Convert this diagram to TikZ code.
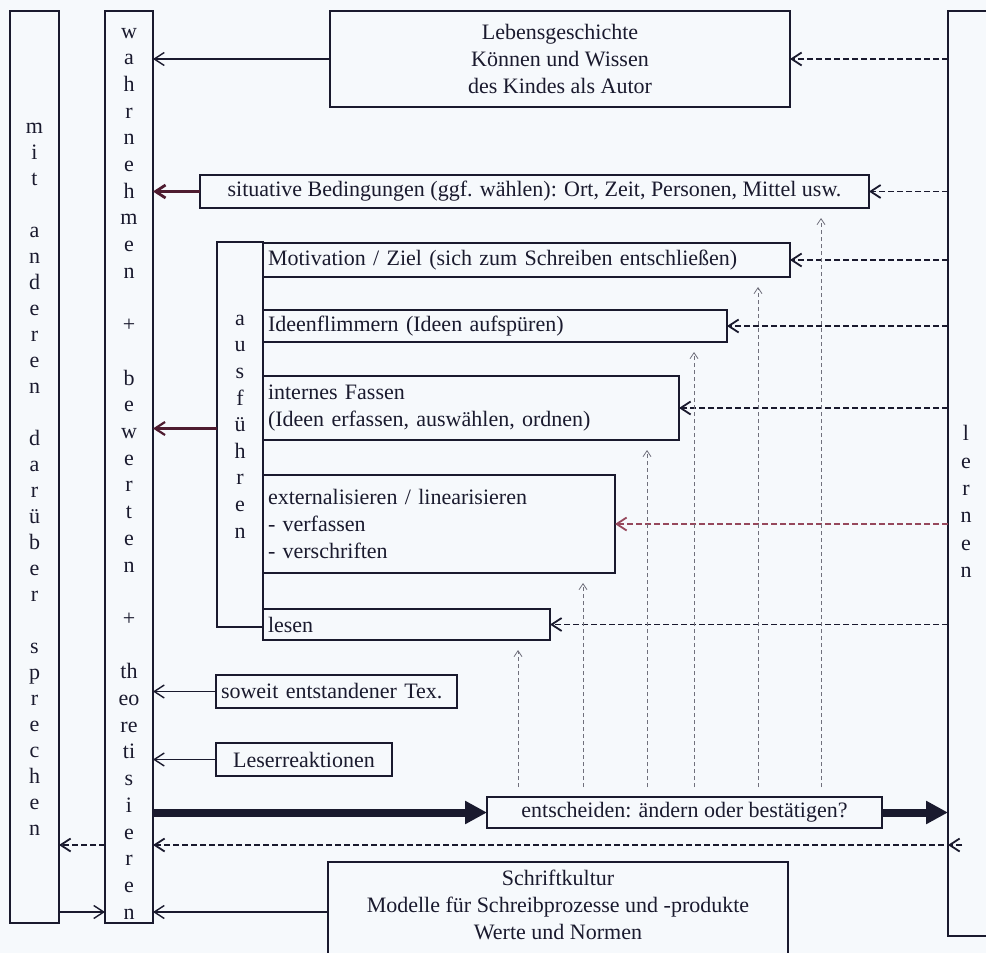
\documentclass[tikz,border=0pt]{standalone}
\usepackage{fontspec}
\setmainfont{Liberation Serif}
\usetikzlibrary{arrows.meta}
\definecolor{ink}{RGB}{26,26,46}
\definecolor{maroon}{RGB}{78,28,48}
\definecolor{redd}{RGB}{150,72,92}
\definecolor{dotgrey}{RGB}{112,112,124}
\definecolor{paper}{RGB}{246,249,252}

\begin{document}
\begin{tikzpicture}[x=0.5pt, y=-0.5pt,
    every node/.style={text=ink, font=\fontsize{11}{13.5}\selectfont},
    box/.style={draw=ink, line width=0.8pt, rectangle, inner sep=0pt, outer sep=0pt},
    leftbox/.style={box, anchor=west, align=left, inner xsep=2.5pt},
    coltext/.style={align=center, inner sep=0pt},
    arr/.style={draw=ink, line width=0.7pt, -{Straight Barb[length=5pt,width=6.5pt]}},
    darr/.style={arr, line width=0.9pt, dash pattern=on 3pt off 1.5pt},
    varr/.style={draw=dotgrey, line width=0.4pt, dash pattern=on 2pt off 1.5pt,
        -{Straight Barb[length=3pt,width=4pt]}, shorten <=5pt, shorten >=5pt},
    fatarr/.style={draw=ink, line width=4pt, -{Triangle[length=11pt,width=11pt]}}]
    \fill[paper] (0,0) rectangle (986,953);
    \useasboundingbox (0,0) rectangle (986,953);
    \clip (0,0) rectangle (986,953);

    % the three columns
    \node[box, minimum width=24.5pt, minimum height=456pt] (sprech) at (34.5,467) {};
    \node[coltext, font=\fontsize{11}{13}\selectfont] (sprechtext) at (34.5,479)
        {m\\i\\t\\[13pt]a\\n\\d\\e\\r\\e\\n\\[13pt]d\\a\\r\\ü\\b\\e\\r\\[13pt]s\\p\\r\\e\\c\\h\\e\\n};
    \node[box, minimum width=24pt, minimum height=456pt] (wahr) at (129,467) {};
    \node[coltext, font=\fontsize{11}{13.35}\selectfont] (wahrtext) at (129,473.5)
        {w\\a\\h\\r\\n\\e\\h\\m\\e\\n\\[13.35pt]+\\[13.35pt]b\\e\\w\\e\\r\\t\\e\\n\\[13.35pt]+\\[13.35pt]th\\eo\\re\\ti\\s\\i\\e\\r\\e\\n};
    \node[box, minimum width=31pt, minimum height=462.5pt] (lern) at (979,473.5) {};
    \node[coltext, font=\fontsize{11}{13.7}\selectfont] (lerntext) at (966,501.5)
        {l\\e\\r\\n\\e\\n};

    \node[box, minimum width=230pt, minimum height=48pt, align=center] (leben) at (560,59)
        {Lebensgeschichte\\Können und Wissen\\des Kindes als Autor};
    \node[box, minimum width=334.5pt, minimum height=16.5pt] (sit) at (534.5,191.5)
        {situative Bedingungen (ggf. wählen): Ort, Zeit, Personen, Mittel usw.};

    % ausfuehren
    \node[box, minimum width=23pt, minimum height=192.5pt] (ausf) at (240,434.5) {};
    \node[coltext, font=\fontsize{11}{13.3}\selectfont] (ausftext) at (240,426.5)
        {a\\u\\s\\f\\ü\\h\\r\\e\\n};
    \node[leftbox, text width=258.5pt, minimum height=17pt] (motiv) at (263,260)
        {Motivation / Ziel (sich zum Schreiben entschließen)};
    \node[leftbox, text width=227pt, minimum height=16pt] (ideen) at (263,326)
        {Ideenflimmern (Ideen aufspüren)};
    \node[leftbox, text width=203pt, minimum height=32pt] (intern) at (263,408)
        {internes Fassen\\(Ideen erfassen, auswählen, ordnen)};
    \node[leftbox, text width=171pt, minimum height=49pt] (extern) at (263,524)
        {externalisieren / linearisieren\\- verfassen\\- verschriften};
    \node[leftbox, text width=138.5pt, minimum height=15.5pt] (lesen) at (263,624.5) {lesen};
    \draw[ink, line width=0.8pt] (motiv.north west) -- (lesen.south west);

    \node[leftbox, text width=115.5pt, minimum height=16.5pt] (soweit) at (216,691.5)
        {soweit entstandener Tex.};
    \node[box, minimum width=88pt, minimum height=16.5pt] (leser) at (304,759.5) {Leserreaktionen};
    \node[box, minimum width=197.5pt, minimum height=15.5pt] (entsch) at (684.5,812.5)
        {entscheiden: ändern oder bestätigen?};
    \node[box, minimum width=230pt, minimum height=50pt] (schrift) at (558,912) {};
    \node[coltext] (schrifttext) at (558,905)
        {Schriftkultur\\Modelle für Schreibprozesse und -produkte\\Werte und Normen};

    % into wahrnehmen
    \draw[arr] (leben.west) -- (leben.west -| wahr.east);
    \draw[arr, draw=maroon, line width=1.4pt] (sit.west) -- (sit.west -| wahr.east);
    \draw[arr, draw=maroon, line width=1.1pt] ([yshift=3pt]ausf.west) -- ([yshift=3pt]ausf.west -| wahr.east);
    \draw[arr] (soweit.west) -- (soweit.west -| wahr.east);
    \draw[arr] (leser.west) -- (leser.west -| wahr.east);
    \draw[arr] (schrift.west) -- (schrift.west -| wahr.east);
    \draw[arr] (schrift.west -| sprech.east) -- (schrift.west -| wahr.west);

    % from lernen
    \draw[darr] (leben.east -| lern.west) -- (leben.east);
    \draw[darr] (sit.east -| lern.west) -- (sit.east);
    \foreach \b in {motiv, ideen, intern, lesen}
        \draw[darr] (\b.east -| lern.west) -- (\b.east);
    \draw[darr, draw=redd] (extern.east -| lern.west) -- (extern.east);

    \draw[fatarr] (entsch.west -| wahr.east) -- (entsch.west);
    \draw[fatarr] (entsch.east) -- (entsch.east -| lern.west);

    \foreach \x/\b in {518/lesen, 583/extern, 647/intern, 694/ideen, 758/motiv, 821/sit} {
        \coordinate (up) at (\x,0);
        \draw[varr] (entsch.north -| up) -- (\b.south -| up);
    }

    \coordinate (back) at (962,845);
    \draw[darr] (back) -- (back -| wahr.east);
    \draw[darr] (back) -- (back -| lern.west);
    \draw[darr] (back -| wahr.west) -- (back -| sprech.east);

\end{tikzpicture}
\end{document}
